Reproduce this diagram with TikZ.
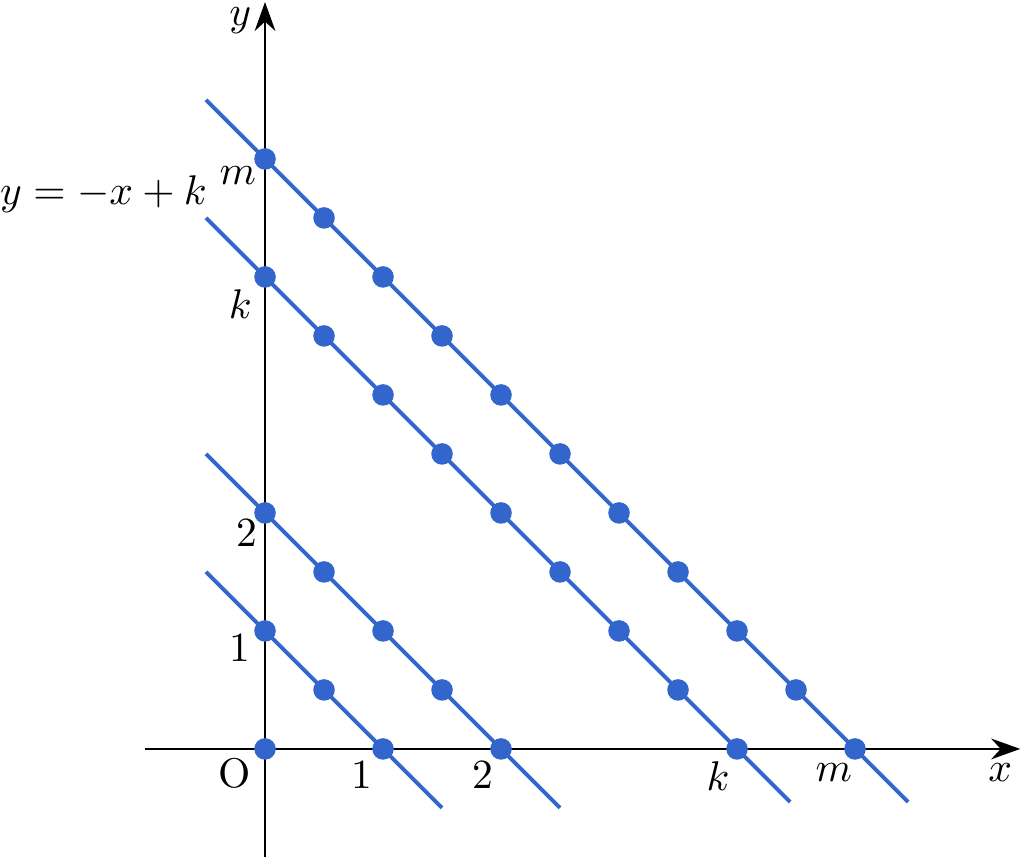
\documentclass[tikz,border=0pt]{standalone}
\usepackage{tikz}
\usepackage{xcolor}
\usetikzlibrary{arrows.meta}
\definecolor{lineblue}{HTML}{3366CC}

\begin{document}
\begin{tikzpicture}[
    axis/.style={line width=0.55pt,-{Stealth[length=7pt,width=5pt]}},
    famline/.style={lineblue,line width=0.95pt},
    dot/.style={circle,fill=lineblue,inner sep=0pt,minimum size=5.2pt}]
  \useasboundingbox (-2.246,-0.915) rectangle (6.432,6.347);
  % Axes
  \coordinate (xs) at (-1.02,0);
  \coordinate (xe) at (6.4,0);
  \coordinate (ys) at (0,-0.915);
  \coordinate (ye) at (0,6.33);
  \draw[axis] (xs) -- (xe);
  \draw[axis] (ys) -- (ye);
  % Lines y = -x + c
  \foreach \c/\e/\n in {1/0.5/a, 2/0.5/b, 4/0.45/k, 5/0.45/m} {
    \coordinate (\n s) at (-0.5,\c+0.5);
    \coordinate (\n e) at (\c+\e,-\e);
    \draw[famline] (\n s) -- (\n e);
  }
  % Lattice points
  \node[dot] (o) at (0,0) {};
  \foreach \c/\n in {1/a, 2/b, 4/k, 5/m} {
    \pgfmathtruncatemacro{\last}{2*\c}
    \foreach \i in {0,...,\last} {
      \node[dot] (\n\i) at (\i/2,\c-\i/2) {};
    }
  }
  % Labels
  \node (olab) at (-0.254,-0.203) {O};
  \node (x1) at (0.822,-0.22) {1};
  \node (x2) at (1.847,-0.22) {2};
  \node (xk) at (3.84,-0.23) {$k$};
  \node (xm) at (4.82,-0.2) {$m$};
  \node (xlab) at (6.23,-0.2) {$x$};
  \node[inner sep=0pt] (ylab) at (-0.21,6.17) {$y$};
  \node (y1) at (-0.21,0.856) {1};
  \node (y2) at (-0.15,1.83) {2};
  \node (yk) at (-0.21,3.77) {$k$};
  \node (ym) at (-0.23,4.86) {$m$};
  \node (eq) at (-1.37,4.70) {$y=-x+k$};
\end{tikzpicture}
\end{document}
